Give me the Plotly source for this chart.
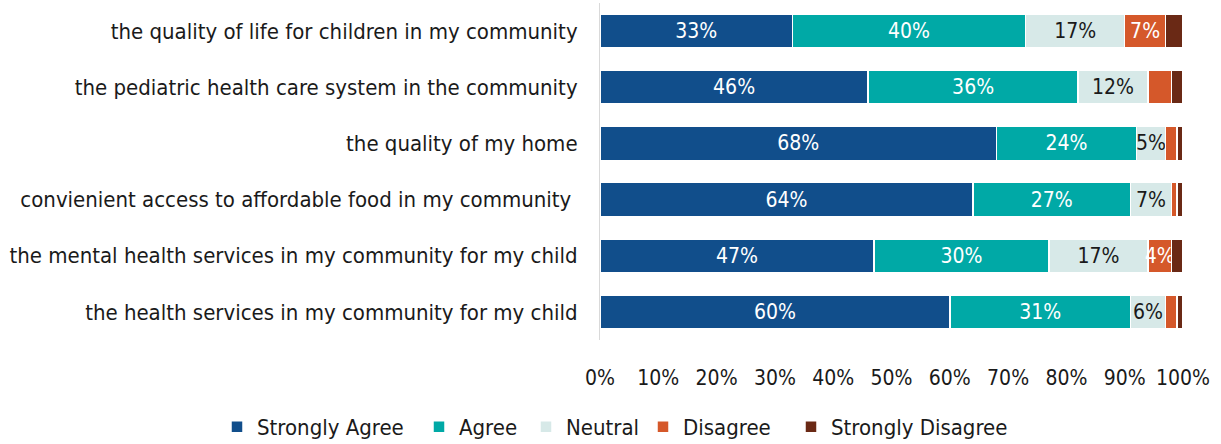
import plotly.graph_objects as go

categories = [
    "the quality of life for children in my community",
    "the pediatric health care system in the community",
    "the quality of my home",
    "convienient access to affordable food in my community ",
    "the mental health services in my community for my child",
    "the health services in my community for my child",
]
series_names = ["Strongly Agree", "Agree", "Neutral", "Disagree", "Strongly Disagree"]
strongly_agree = [33, 46, 68, 64, 47, 60]
agree = [40, 36, 24, 27, 30, 31]
neutral = [17, 12, 5, 7, 17, 6]
disagree = [7, 4, 2, 1, 4, 2]
strongly_disagree = [3, 2, 1, 1, 2, 1]
# which points show a data label
show_label = [
    [1, 1, 1, 1, 1, 1],
    [1, 1, 1, 1, 1, 1],
    [1, 1, 1, 1, 1, 1],
    [1, 0, 0, 0, 1, 0],
    [0, 0, 0, 0, 0, 0],
]
colors = ["#114E8B", "#00A9A6", "#D7E9E8", "#D5582A", "#6A2915"]
text_colors = ["white", "white", "#1a1a1a", "white", "white"]
values = [strongly_agree, agree, neutral, disagree, strongly_disagree]

FONT = "DejaVu Sans Condensed, sans-serif"

ML, MR, MT, MB = 600, 38, 3, 104
W, H = 1221, 444
# legend entry left positions (pixels), one legend box per entry
legend_px = [217, 419, 526, 643, 791]
legend_keys = ["legend", "legend2", "legend3", "legend4", "legend5"]

fig = go.Figure()
for name, vals, col, tcol, mask, lk in zip(series_names, values, colors, text_colors,
                                           show_label, legend_keys):
    fig.add_trace(go.Bar(
        y=categories, x=vals, name=name, orientation="h", legend=lk,
        showlegend=True,
        marker=dict(color=col, line=dict(color="white", width=1.5)),
        text=[f"{v}%" if m else "" for v, m in zip(vals, mask)],
        textposition="inside", insidetextanchor="middle", textangle=0,
        textfont=dict(color=tcol, size=21, family=FONT),
        constraintext="none",
        hoverinfo="skip",
    ))

legends = {}
for lk, px in zip(legend_keys, legend_px):
    legends[lk] = dict(orientation="h", xref="container", yref="container",
                       x=px / W, y=(H - 427) / H,
                       xanchor="left", yanchor="middle",
                       font=dict(size=22), bgcolor="rgba(0,0,0,0)")

fig.update_layout(
    showlegend=True,
    barmode="stack",
    bargap=0.4,
    width=W, height=H,
    margin=dict(l=ML, r=MR, t=MT, b=MB, autoexpand=False),
    plot_bgcolor="white", paper_bgcolor="white",
    font=dict(family=FONT, size=21, color="#1a1a1a"),
    uniformtext=dict(minsize=8, mode="show"),
    xaxis=dict(range=[0, 100], tickvals=list(range(0, 101, 10)),
               ticktext=[f"{v}%" for v in range(0, 101, 10)],
               showgrid=False, zeroline=False, showline=False, automargin=False,
               ticklabelstandoff=23, tickfont=dict(size=21)),
    yaxis=dict(autorange="reversed", showgrid=False, showline=True, automargin=False,
               linecolor="#D9D9D9", linewidth=1, ticklabelstandoff=17,
               tickfont=dict(size=22)),
    **legends,
)

fig.write_html("out.html", config={"displayModeBar": False},
               post_script="document.body.style.margin='0';")
